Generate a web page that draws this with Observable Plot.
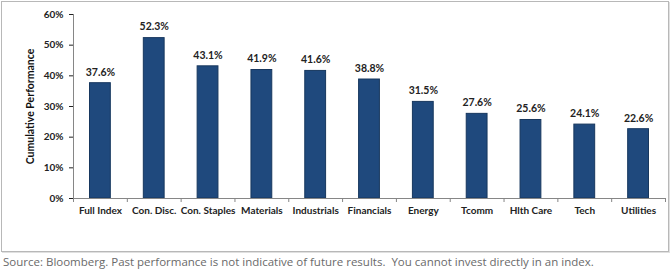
<!DOCTYPE html>
<html>
<head>
<meta charset="utf-8">
<script src="https://cdn.jsdelivr.net/npm/d3@7"></script>
<script src="https://cdn.jsdelivr.net/npm/@observablehq/plot@0.6"></script>
<style>
  html, body { margin: 0; padding: 0; background: #fff; }
  #box { position: absolute; left: 1px; top: 1px; width: 666px; height: 249px; border: 1px solid #b8b8b8; box-shadow: 1px 1px 0 #e0e0e0; }
  #box svg { display: block; }
  #caption { position: absolute; left: 3px; top: 254px; font-family: "Open Sans", sans-serif; font-size: 11.5px; color: #6a6a6a; white-space: pre; }
</style>
</head>
<body>
<div id="box"></div>
<div id="caption">Source: Bloomberg. Past performance is not indicative of future results.  You cannot invest directly in an index.</div>
<script>
const categories = ["Full Index", "Con. Disc.", "Con. Staples", "Materials", "Industrials", "Financials", "Energy", "Tcomm", "Hlth Care", "Tech", "Utilities"];
const values = [0.376, 0.523, 0.431, 0.419, 0.416, 0.388, 0.315, 0.276, 0.256, 0.241, 0.226];
const yTicks = [0, 0.1, 0.2, 0.3, 0.4, 0.5, 0.6];
const yTitle = "Cumulative Performance";

const data = categories.map((c, i) => ({category: c, i, value: values[i]}));
const font = "Lato, 'Liberation Sans', sans-serif";

const chart = Plot.plot({
  width: 666,
  height: 249,
  marginLeft: 71,
  marginRight: 3,
  marginTop: 12,
  marginBottom: 53,
  style: {fontFamily: font, fontSize: "10px", fontWeight: "bold", color: "#222", background: "transparent"},
  x: {type: "linear", domain: [0, categories.length], axis: null},
  y: {
    type: "linear",
    domain: [0, 0.6],
    ticks: yTicks,
    tickFormat: d3.format(".0%"),
    tickSize: 4,
    tickPadding: 6,
    label: null
  },
  marks: [
    Plot.rectY(data, {x1: "i", x2: d => d.i + 1, y: "value", insetLeft: 16.5, insetRight: 16.5, fill: "#1F497D", stroke: "#17375E", strokeWidth: 1}),
    Plot.ruleX([0], {stroke: "#868686"}),
    Plot.ruleY([0], {stroke: "#868686"}),
    Plot.ruleX(d3.range(categories.length + 1), {x: d => d, y1: 0, y2: 0, insetBottom: -4, stroke: "#868686"}),
    Plot.text(data, {x: d => d.i + 0.5, y: "value", text: d => d3.format(".1%")(d.value), dy: -11, fill: "#222", fontSize: 10.5}),
    Plot.text(data, {x: d => d.i + 0.5, y: 0, text: "category", dy: 12, fill: "#222"}),
    Plot.text([yTitle], {frameAnchor: "left", textAnchor: "middle", dx: -43, rotate: -90, text: d => d, fill: "#111", fontSize: 10.5, fontWeight: "bold"})
  ]
});
document.getElementById("box").appendChild(chart);
</script>
</body>
</html>
